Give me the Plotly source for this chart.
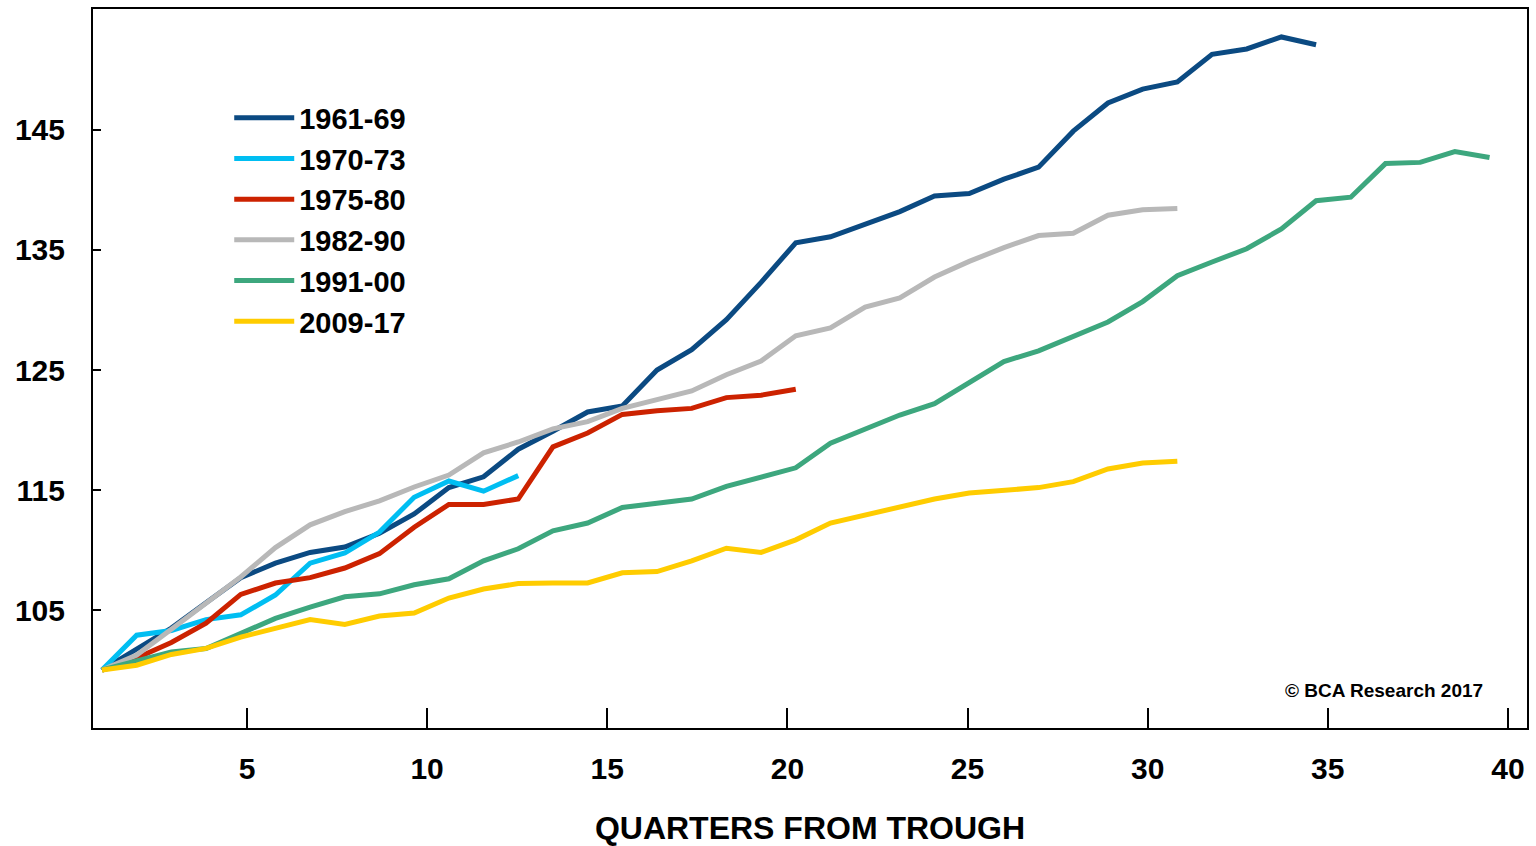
import plotly.graph_objects as go

# Quarters from trough (index 0 = trough), values indexed to 100 at trough
series_names = ["1961-69", "1970-73", "1975-80", "1982-90", "1991-00", "2009-17"]
s_1961_69 = [100, 101.8, 103.5, 105.6, 107.7, 108.9, 109.8, 110.25, 111.4, 113.0,
             115.2, 116.1, 118.4, 119.9, 121.5, 122.0, 125.0, 126.7, 129.2, 132.3,
             135.6, 136.1, 137.1, 138.2, 139.5, 139.7, 140.9, 141.9, 144.9, 147.25,
             148.4, 149.0, 151.3, 151.75, 152.75, 152.1]
s_1970_73 = [100, 102.9, 103.3, 104.2, 104.6, 106.25, 108.9, 109.75, 111.5, 114.4,
             115.75, 114.9, 116.2]
s_1975_80 = [100, 101.0, 102.3, 103.9, 106.3, 107.25, 107.7, 108.5, 109.7, 111.9,
             113.8, 113.8, 114.25, 118.6, 119.75, 121.3, 121.6, 121.8, 122.7, 122.9,
             123.4]
s_1982_90 = [100, 101.25, 103.4, 105.6, 107.75, 110.2, 112.1, 113.2, 114.1, 115.25,
             116.25, 118.1, 119.0, 120.1, 120.7, 121.8, 122.5, 123.25, 124.6, 125.75,
             127.85, 128.5, 130.25, 131.0, 132.75, 134.05, 135.2, 136.2, 136.4, 137.9,
             138.35, 138.45]
s_1991_00 = [100, 100.75, 101.5, 101.8, 103.1, 104.3, 105.25, 106.1, 106.35, 107.1,
             107.6, 109.1, 110.1, 111.6, 112.25, 113.55, 113.9, 114.25, 115.3, 116.1,
             116.85, 118.9, 120.1, 121.25, 122.2, 124.0, 125.7, 126.6, 127.75, 129.0,
             130.7, 132.85, 134.0, 135.1, 136.75, 139.1, 139.4, 142.2, 142.3, 143.2,
             142.7]
s_2009_17 = [100, 100.4, 101.3, 101.8, 102.75, 103.5, 104.2, 103.8, 104.5, 104.75,
             106.0, 106.75, 107.2, 107.25, 107.25, 108.1, 108.2, 109.1, 110.15, 109.8,
             110.85, 112.25, 112.9, 113.5, 114.25, 114.75, 115.0, 115.2, 115.7, 116.75,
             117.25, 117.4]
series_values = [s_1961_69, s_1970_73, s_1975_80, s_1982_90, s_1991_00, s_2009_17]
colors = ["#0B4A82", "#00BEF2", "#CC2200", "#B8B8B8", "#3DA77E", "#FFCC00"]

x_tick_vals = [5, 10, 15, 20, 25, 30, 35, 40]
y_tick_vals = [105, 115, 125, 135, 145]

FONT = "Liberation Sans, Arial, sans-serif"

fig = go.Figure()
for name, vals, col in zip(series_names, series_values, colors):
    fig.add_trace(go.Scatter(
        x=list(range(len(vals))), y=vals, name=name, mode="lines",
        line=dict(color=col, width=5), xaxis="x", yaxis="y",
        legendgroup=name,
    ))

# empty helper trace so the tick (label) axis gets drawn
fig.add_trace(go.Scatter(x=x_tick_vals, y=[None] * len(x_tick_vals), xaxis="x2", yaxis="y",
                         mode="lines", showlegend=False, hoverinfo="skip"))

fig.update_layout(
    width=1536, height=846,
    margin=dict(l=93, r=9, t=9, b=118, autoexpand=False),
    paper_bgcolor="white", plot_bgcolor="white",
    font=dict(family=FONT, color="black"),
    showlegend=True,
    legend=dict(
        x=0.095, y=0.884, xanchor="left", yanchor="top",
        font=dict(family=FONT, size=29, color="black", weight="bold"),
        bgcolor="rgba(0,0,0,0)", itemwidth=60, tracegroupgap=0,
    ),
    xaxis=dict(
        range=[-0.259, 41.08],
        showticklabels=False, ticks="",
        showline=True, linecolor="black", linewidth=2, mirror=True,
        showgrid=False, zeroline=False,
    ),
    xaxis2=dict(
        range=[0.726, 40.53], overlaying="x", anchor="y", side="bottom",
        tickvals=x_tick_vals, ticktext=[str(v) for v in x_tick_vals],
        ticks="inside", ticklen=20, tickwidth=2, tickcolor="black",
        showline=False, showgrid=False, zeroline=False,
        tickfont=dict(family=FONT, size=30, color="black", weight="bold"),
        ticklabelstandoff=20,
        title=dict(text="QUARTERS FROM TROUGH", standoff=38,
                   font=dict(family=FONT, size=32, color="black", weight="bold")),
    ),
    yaxis=dict(
        range=[95.17, 155.08], tickvals=y_tick_vals,
        ticks="inside", ticklen=8, tickwidth=2, tickcolor="black",
        showline=True, linecolor="black", linewidth=2, mirror=True,
        showgrid=False, zeroline=False,
        tickfont=dict(family=FONT, size=30, color="black", weight="bold"),
        ticklabelstandoff=20,
    ),
    annotations=[dict(
        text="© BCA Research 2017", x=0.9707, y=0.0515, xref="paper", yref="paper",
        xanchor="right", yanchor="middle", showarrow=False,
        font=dict(family=FONT, size=19, color="black", weight="bold"),
    )],
)

# remove the browser's default 8px body margin so the figure fills the window exactly
fig.write_html("out.html", config={"displayModeBar": False},
               post_script="document.body.style.margin='0px';document.body.style.overflow='hidden';")
